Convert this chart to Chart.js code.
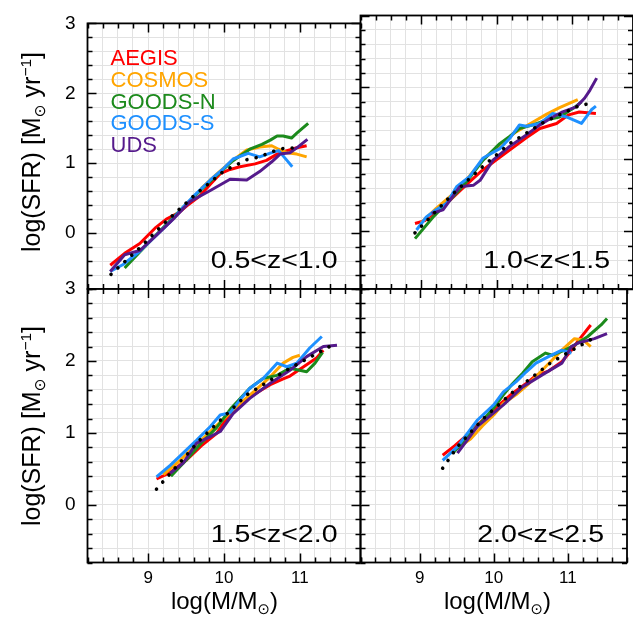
<!DOCTYPE html>
<html><head><meta charset="utf-8">
<script src="https://cdn.jsdelivr.net/npm/chart.js@4/dist/chart.umd.min.js"></script>
<style>
html,body{margin:0;padding:0;background:#fff;}
#wrap{position:relative;width:633px;height:627px;overflow:hidden;font-family:"Liberation Sans",Arial,sans-serif;color:#000;}
canvas{position:absolute;left:0;top:0;}
.ytitle{position:absolute;width:273px;height:30px;line-height:30px;text-align:center;font-size:25px;transform:rotate(-90deg);transform-origin:50% 50%;white-space:nowrap;}
.xtitle{position:absolute;width:273px;height:30px;line-height:30px;text-align:center;font-size:24px;white-space:nowrap;}
.sub{font-size:62%;position:relative;top:0.35em;font-family:"DejaVu Sans",sans-serif;}
.sup{font-size:62%;position:relative;top:-0.55em;}
</style>
</head><body>
<div id="wrap">
<canvas id="c0" width="633" height="627"></canvas>
<canvas id="c1" width="633" height="627"></canvas>
<canvas id="c2" width="633" height="627"></canvas>
<canvas id="c3" width="633" height="627"></canvas>
<div class="ytitle" style="left:-106px;top:137px;">log(SFR) [M<span class="sub">⊙</span> yr<span class="sup">−1</span>]</div>
<div class="ytitle" style="left:-106px;top:411px;">log(SFR) [M<span class="sub">⊙</span> yr<span class="sup">−1</span>]</div>
<div class="xtitle" style="left:88px;top:586px;">log(M/M<span class="sub">⊙</span>)</div>
<div class="xtitle" style="left:361px;top:586px;">log(M/M<span class="sub">⊙</span>)</div>
</div>
<script>
// ---------- DATA ----------
const seriesNames = ['AEGIS','COSMOS','GOODS-N','GOODS-S','UDS'];
const seriesColors = ['#ff0000','#ffa500','#1c8a1c','#1e90ff','#551a8b'];
const zLabels = ['0.5<z<1.0','1.0<z<1.5','1.5<z<2.0','2.0<z<2.5'];
const xRange = [8.2, 11.8];
const yRange = [-0.8, 3.0];
const tickStep = 0.2;

// Panel 1: 0.5<z<1.0
const m1_aegis = [8.50,8.69,8.89,9.09,9.24,9.40,9.51,9.68,9.82,9.95,10.08,10.21,10.41,10.56,10.70,10.83,10.96,11.09];
const s1_aegis = [-0.46,-0.29,-0.15,0.07,0.20,0.29,0.39,0.53,0.70,0.85,0.91,0.95,0.99,1.04,1.13,1.18,1.22,1.25];
const m1_cosmos = [9.70,9.90,10.10,10.30,10.47,10.63,10.72,10.83,10.96,11.09];
const s1_cosmos = [0.64,0.84,1.03,1.19,1.23,1.25,1.20,1.15,1.13,1.09];
const m1_goodsn = [8.69,8.89,9.10,9.30,9.50,9.70,9.90,10.10,10.34,10.50,10.61,10.70,10.78,10.89,10.96,11.11];
const s1_goodsn = [-0.50,-0.27,-0.03,0.19,0.41,0.62,0.82,1.02,1.20,1.27,1.33,1.39,1.39,1.36,1.43,1.57];
const m1_goodss = [8.50,8.67,8.89,9.11,9.29,9.46,9.62,9.82,9.99,10.12,10.32,10.47,10.60,10.72,10.83,10.90];
const s1_goodss = [-0.55,-0.45,-0.26,-0.03,0.16,0.37,0.55,0.76,0.92,1.06,1.14,1.09,1.14,1.18,1.04,0.95];
const m1_uds = [8.50,8.69,8.89,9.11,9.33,9.55,9.82,10.08,10.30,10.47,10.63,10.74,10.87,10.96,11.10];
const s1_uds = [-0.55,-0.31,-0.25,-0.03,0.20,0.45,0.61,0.77,0.76,0.88,1.02,1.13,1.15,1.22,1.34];
const m1_fit = [8.51,8.88,9.24,9.61,10.00,10.30,10.47,10.62,10.78,10.95];
const s1_fit = [-0.59,-0.22,0.17,0.54,0.89,1.05,1.09,1.16,1.21,1.22];

// Panel 2: 1.0<z<1.5
const m2_aegis = [8.92,9.05,9.20,9.40,9.60,9.80,10.00,10.17,10.39,10.57,10.79,10.95,11.09,11.31];
const s2_aegis = [0.11,0.15,0.28,0.45,0.65,0.84,1.00,1.13,1.30,1.43,1.50,1.62,1.66,1.64];
const m2_cosmos = [9.00,9.20,9.40,9.60,9.82,10.04,10.25,10.48,10.66,10.83,11.07];
const s2_cosmos = [0.12,0.32,0.50,0.72,1.00,1.20,1.38,1.52,1.63,1.72,1.83];
const m2_goodsn = [8.92,9.16,9.42,9.60,9.82,10.04,10.17,10.30,10.48,10.66,10.83,11.01,11.12];
const s2_goodsn = [-0.10,0.20,0.48,0.69,0.99,1.22,1.32,1.43,1.48,1.55,1.59,1.71,1.80];
const m2_goodss = [8.94,9.07,9.20,9.34,9.47,9.64,9.82,10.04,10.17,10.30,10.39,10.57,10.74,10.92,11.12,11.25,11.31];
const s2_goodss = [0.02,0.20,0.30,0.39,0.62,0.76,1.02,1.15,1.29,1.48,1.46,1.50,1.64,1.59,1.50,1.69,1.74];
const m2_uds = [9.14,9.29,9.51,9.69,9.78,9.95,10.17,10.39,10.57,10.74,10.87,11.05,11.16,11.23,11.32];
const s2_uds = [0.25,0.30,0.62,0.64,0.71,0.99,1.18,1.34,1.48,1.59,1.66,1.73,1.85,1.96,2.13];
const m2_fit = [8.92,9.40,9.78,10.17,10.61,11.05,11.23];
const s2_fit = [-0.02,0.50,0.87,1.22,1.51,1.73,1.78];

// Panel 3: 1.5<z<2.0
const m3_aegis = [9.11,9.29,9.50,9.70,9.90,10.08,10.34,10.61,10.78,10.87,11.05,11.22,11.31];
const s3_aegis = [0.36,0.45,0.62,0.82,0.99,1.27,1.50,1.67,1.75,1.79,1.92,2.04,2.15];
const m3_cosmos = [9.20,9.40,9.60,9.80,10.00,10.20,10.40,10.60,10.78,10.91,11.00];
const s3_cosmos = [0.42,0.60,0.80,1.00,1.20,1.40,1.58,1.77,1.97,2.05,2.08];
const m3_goodsn = [9.30,9.50,9.70,9.90,10.10,10.34,10.52,10.70,10.87,11.09,11.20,11.30];
const s3_goodsn = [0.40,0.62,0.86,1.07,1.35,1.62,1.76,1.80,1.90,1.85,1.97,2.12];
const m3_goodss = [9.11,9.29,9.46,9.64,9.82,9.95,10.08,10.21,10.34,10.52,10.70,10.83,10.96,11.13,11.29];
const s3_goodss = [0.39,0.55,0.72,0.90,1.09,1.25,1.28,1.46,1.62,1.76,1.97,1.92,1.97,2.18,2.34];
const m3_uds = [9.29,9.46,9.64,9.82,9.95,10.12,10.34,10.61,10.87,11.09,11.31,11.49];
const s3_uds = [0.44,0.58,0.86,0.95,1.02,1.27,1.48,1.69,1.87,2.06,2.20,2.22];
const m3_fit = [9.11,9.68,10.30,10.87,11.18,11.46];
const s3_fit = [0.22,0.90,1.53,1.90,2.08,2.24];

// Panel 4: 2.0<z<2.5
const m4_aegis = [9.31,9.47,9.65,9.85,10.05,10.25,10.48,10.57,10.74,10.92,11.05,11.14,11.31];
const s4_aegis = [0.69,0.82,0.98,1.18,1.37,1.55,1.72,1.80,1.86,1.99,2.15,2.28,2.50];
const m4_cosmos = [9.50,9.69,9.85,10.00,10.13,10.30,10.48,10.70,10.92,11.09,11.21,11.31];
const s4_cosmos = [0.78,0.92,1.10,1.25,1.41,1.53,1.69,1.92,2.15,2.31,2.29,2.20];
const m4_goodsn = [9.45,9.65,9.85,10.00,10.13,10.25,10.39,10.52,10.70,10.79,10.96,11.09,11.27,11.45,11.53];
const s4_goodsn = [0.72,0.95,1.17,1.35,1.53,1.68,1.83,1.99,2.11,2.08,2.15,2.22,2.34,2.50,2.59];
const m4_goodss = [9.31,9.51,9.78,10.00,10.13,10.30,10.44,10.57,10.74,10.92,11.05];
const s4_goodss = [0.62,0.81,1.18,1.39,1.57,1.71,1.85,1.97,2.06,2.15,2.11];
const m4_uds = [9.51,9.78,10.13,10.39,10.66,10.92,11.05,11.14,11.36,11.53];
const s4_uds = [0.72,1.09,1.39,1.64,1.81,1.97,2.20,2.25,2.31,2.38];
const m4_fit = [9.31,9.51,9.86,10.26,10.79,11.40];
const s4_fit = [0.51,0.81,1.20,1.57,1.99,2.35];

const panelMass = [
  [m1_aegis,m1_cosmos,m1_goodsn,m1_goodss,m1_uds,m1_fit],
  [m2_aegis,m2_cosmos,m2_goodsn,m2_goodss,m2_uds,m2_fit],
  [m3_aegis,m3_cosmos,m3_goodsn,m3_goodss,m3_uds,m3_fit],
  [m4_aegis,m4_cosmos,m4_goodsn,m4_goodss,m4_uds,m4_fit]
];
const panelSfr = [
  [s1_aegis,s1_cosmos,s1_goodsn,s1_goodss,s1_uds,s1_fit],
  [s2_aegis,s2_cosmos,s2_goodsn,s2_goodss,s2_uds,s2_fit],
  [s3_aegis,s3_cosmos,s3_goodsn,s3_goodss,s3_uds,s3_fit],
  [s4_aegis,s4_cosmos,s4_goodsn,s4_goodss,s4_uds,s4_fit]
];

// ---------- RENDER ----------
const FONT = '"Liberation Sans", Arial, sans-serif';
const isInt = v => Math.abs(v - Math.round(v)) < 1e-6;
const W = 633, H = 627;
const colL = [87.5, 360.5], colR = [360.5, 633];
const rowT = [15.5, 289], rowB = [289, 562.5];
const yAxisW = 40, xAxisH = 32;

function tickValues(r) {
  const out = [];
  const n = Math.round((r[1] - r[0]) / tickStep);
  for (let k = 0; k <= n; k++) out.push(+(r[0] + k * tickStep).toFixed(4));
  return out;
}

const framePlugin = {
  id: 'frame',
  afterDraw(chart, args, opts) {
    const ctx = chart.ctx, a = chart.chartArea;
    const xs = chart.scales.x, ys = chart.scales.y;
    ctx.save();
    ctx.setLineDash([]);
    ctx.lineDashOffset = 0;
    ctx.globalAlpha = 1;
    ctx.strokeStyle = '#000000';
    ctx.lineWidth = 1.5;
    ctx.lineCap = 'butt';
    ctx.lineJoin = 'miter';
    ctx.beginPath();
    tickValues(xRange).forEach(v => {
      const p = Math.round(xs.getPixelForValue(v)) + 0.5;
      const len = isInt(v) ? 9 : 5;
      ctx.moveTo(p, a.top); ctx.lineTo(p, a.top + len);
      ctx.moveTo(p, a.bottom); ctx.lineTo(p, a.bottom - len);
    });
    tickValues(yRange).forEach(v => {
      const p = Math.round(ys.getPixelForValue(v)) + 0.5;
      const len = isInt(v) ? 9 : 5;
      ctx.moveTo(a.left, p); ctx.lineTo(a.left + len, p);
      ctx.moveTo(a.right, p); ctx.lineTo(a.right - len, p);
    });
    ctx.stroke();
    ctx.lineWidth = 1.8;
    ctx.strokeRect(a.left, a.top, a.right - a.left, a.bottom - a.top);
    // redshift label (figure font is horizontally wide)
    ctx.fillStyle = '#000';
    ctx.font = '23px ' + FONT;
    ctx.textAlign = 'right';
    ctx.textBaseline = 'alphabetic';
    ctx.save();
    ctx.translate(a.right - 23, a.bottom - 21);
    ctx.scale(1.24, 1);
    ctx.fillText(opts.label, 0, 0);
    ctx.restore();
    // legend (text only, coloured)
    if (opts.legend) {
      ctx.font = '22px ' + FONT;
      ctx.textAlign = 'left';
      chart.data.datasets.forEach((ds, i) => {
        if (ds.isFit) return;
        ctx.fillStyle = ds.borderColor;
        ctx.fillText(ds.label, a.left + 23, a.top + 41.8 + i * 21.7);
      });
    }
    ctx.restore();
  }
};

function makeChart(i) {
  const col = i % 2, row = Math.floor(i / 2);
  const L = colL[col], R = colR[col], T = rowT[row], B = rowB[row];
  const showY = col === 0, showX = row === 1;
  const yW = showY ? yAxisW : 0, xH = showX ? xAxisH : 0;
  const datasets = seriesNames.map((name, k) => ({
    label: name,
    data: panelMass[i][k].map((m, j) => ({ x: m, y: panelSfr[i][k][j] })),
    borderColor: seriesColors[k],
    backgroundColor: seriesColors[k],
    borderWidth: 3,
    borderJoinStyle: 'round',
    showLine: true,
    pointRadius: 0,
    order: 5 - k + 1
  }));
  datasets.push({
    label: 'fit',
    isFit: true,
    data: panelMass[i][5].map((m, j) => ({ x: m, y: panelSfr[i][5][j] })),
    borderColor: '#000',
    backgroundColor: '#000',
    borderWidth: 3.6,
    borderDash: [0.01, 9.4],
    borderCapStyle: 'round',
    showLine: true,
    pointRadius: 0,
    order: 0
  });
  return new Chart(document.getElementById('c' + i), {
    type: 'scatter',
    data: { datasets },
    plugins: [framePlugin],
    options: {
      responsive: false,
      animation: false,
      devicePixelRatio: 1,
      layout: { padding: { left: L - yW, right: W - R, top: T, bottom: H - B - xH } },
      plugins: {
        legend: { display: false },
        tooltip: { enabled: false },
        frame: { label: zLabels[i], legend: i === 0 }
      },
      scales: {
        x: {
          type: 'linear', min: xRange[0], max: xRange[1],
          grid: { color: '#e2e2e2', lineWidth: 1, drawTicks: false },
          border: { display: false },
          ticks: {
            display: showX, stepSize: tickStep, autoSkip: false, maxRotation: 0,
            padding: 6, color: '#000', font: { family: FONT, size: 17 },
            callback: v => isInt(v) ? String(Math.round(v)) : ''
          },
          afterFit: s => { s.height = xH; }
        },
        y: {
          type: 'linear', min: yRange[0], max: yRange[1],
          grid: { color: '#e2e2e2', lineWidth: 1, drawTicks: false },
          border: { display: false },
          ticks: {
            display: showY, stepSize: tickStep, autoSkip: false,
            padding: 12, color: '#000', font: { family: FONT, size: 19 },
            callback: v => isInt(v) ? String(Math.round(v)) : ''
          },
          afterFit: s => { s.width = yW; }
        }
      }
    }
  });
}
[0, 1, 2, 3].forEach(makeChart);
</script>
</body></html>
